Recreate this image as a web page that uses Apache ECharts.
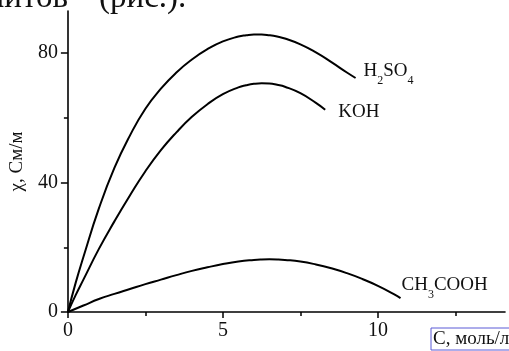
<!DOCTYPE html>
<html>
<head>
<meta charset="utf-8">
<script src="https://cdn.jsdelivr.net/npm/echarts@6/dist/echarts.min.js"></script>
<style>
    html, body { margin: 0; padding: 0; background: #fff; }
    #chart { width: 509px; height: 351px; }
</style>
</head>
<body>
<div id="chart"></div>
<script>
// данные кривых: [C, χ]
var h2so4 = [[0, 0], [0.25, 9], [0.5, 17], [1, 32], [1.5, 44.5], [2, 54.5], [2.5, 62.8], [3, 69],
    [3.5, 74], [4, 78], [4.5, 81.2], [5, 83.6], [5.5, 85.1], [5.75, 85.5], [6, 85.72], [6.25, 85.72],
    [6.5, 85.5], [6.75, 85.1], [7, 84.5], [7.5, 82.7], [8, 80.2], [8.5, 77.2], [9, 74], [9.28, 72.3]];
var koh = [[0, 0], [0.25, 5.2], [0.5, 10], [1, 19.5], [1.5, 28], [2, 36], [2.5, 43.5], [3, 50],
    [3.5, 55.5], [4, 60.3], [4.5, 64.2], [5, 67.3], [5.5, 69.4], [5.75, 70.05], [6, 70.5], [6.25, 70.68],
    [6.5, 70.6], [6.75, 70.2], [7, 69.6], [7.5, 67.6], [8, 64.6], [8.3, 62.5]];
var ch3cooh = [[0, 0], [0.5, 2], [1, 4], [1.5, 5.6], [2, 7.1], [2.5, 8.6], [3, 10], [3.5, 11.4],
    [4, 12.7], [4.5, 13.8], [5, 14.8], [5.5, 15.6], [6, 16.1], [6.25, 16.25], [6.5, 16.3], [6.75, 16.25],
    [7, 16.1], [7.5, 15.6], [8, 14.7], [8.5, 13.5], [9, 12], [9.5, 10.2], [10, 8.1], [10.5, 5.6], [10.73, 4.3]];

var xMajor = [0, 5, 10];
var xMinor = [2.5, 7.5, 12.5];
var yMajor = [0, 40, 80];
var yMinor = [20, 60];

var serif = '"Liberation Serif", "Times New Roman", Times, serif';
var ink = '#111';

var labelRich = {
    m: { fontFamily: serif, fontSize: 19, color: ink, verticalAlign: 'bottom', padding: [0, 0, 6, 0] },
    s: { fontFamily: serif, fontSize: 12, color: ink, verticalAlign: 'bottom' }
};

function makeLine(name, data, text, offset) {
    return {
        name: name,
        type: 'line',
        xAxisIndex: 0,
        yAxisIndex: 0,
        data: data,
        smooth: 0.5,
        symbol: 'none',
        lineStyle: { color: '#000', width: 2 },
        endLabel: {
            show: true,
            distance: 0,
            offset: offset,
            formatter: text,
            rich: labelRich
        }
    };
}

var myChart = echarts.init(document.getElementById('chart'));
var option = {
    animation: false,
    grid: { left: 67, right: 4, top: 11, bottom: 39 },
    xAxis: [
        {
            type: 'value',
            min: 0,
            max: 14.1,
            position: 'bottom',
            axisLine: { show: true, lineStyle: { color: '#000', width: 1.6 } },
            axisTick: { show: true, length: 6, customValues: xMajor, lineStyle: { color: '#000', width: 1.5 } },
            axisLabel: { customValues: xMajor, margin: 9, color: ink, fontFamily: serif, fontSize: 20 },
            splitLine: { show: false }
        },
        {
            type: 'value',
            min: 0,
            max: 14.1,
            position: 'bottom',
            axisLine: { show: false },
            axisTick: { show: true, length: 4, customValues: xMinor, lineStyle: { color: '#000', width: 1.5 } },
            axisLabel: { show: false },
            splitLine: { show: false }
        }
    ],
    yAxis: [
        {
            type: 'value',
            min: 0,
            max: 93,
            position: 'left',
            name: 'χ, См/м',
            nameLocation: 'middle',
            nameRotate: 90,
            nameGap: 33,
            nameTextStyle: { color: ink, fontFamily: serif, fontSize: 19 },
            axisLine: { show: true, lineStyle: { color: '#000', width: 1.6 } },
            axisTick: { show: true, length: 7, customValues: yMajor, lineStyle: { color: '#000', width: 1.5 } },
            axisLabel: { customValues: yMajor, margin: 10, color: ink, fontFamily: serif, fontSize: 20 },
            splitLine: { show: false }
        },
        {
            type: 'value',
            min: 0,
            max: 93,
            position: 'left',
            axisLine: { show: false },
            axisTick: { show: true, length: 4, customValues: yMinor, lineStyle: { color: '#000', width: 1.5 } },
            axisLabel: { show: false },
            splitLine: { show: false }
        }
    ],
    graphic: [
        // обрывок строки текста над рисунком
        {
            type: 'text',
            x: 68,
            y: 15,
            style: {
                text: 'электролитов',
                fontFamily: serif,
                fontSize: 33,
                fill: ink,
                align: 'right',
                verticalAlign: 'bottom'
            }
        },
        {
            type: 'text',
            x: 99,
            y: 15,
            style: {
                text: '(рис.).',
                fontFamily: serif,
                fontSize: 33,
                fill: ink,
                align: 'left',
                verticalAlign: 'bottom'
            }
        },
        {
            type: 'rect',
            shape: { x: 431, y: 328, width: 90, height: 22 },
            style: { fill: 'none', stroke: '#5b5bd6', lineWidth: 1 }
        },
        {
            type: 'text',
            x: 433,
            y: 339,
            style: {
                text: 'С, моль/л',
                fontFamily: serif,
                fontSize: 19,
                fill: ink,
                verticalAlign: 'middle'
            }
        }
    ],
    series: [
        makeLine('H2SO4', h2so4, '{m|H}{s|2}{m|SO}{s|4}', [8, -4]),
        makeLine('KOH', koh, '{m|KOH}', [13, 5]),
        makeLine('CH3COOH', ch3cooh, '{m|CH}{s|3}{m|COOH}', [1, -10])
    ]
};
myChart.setOption(option);
</script>
</body>
</html>
